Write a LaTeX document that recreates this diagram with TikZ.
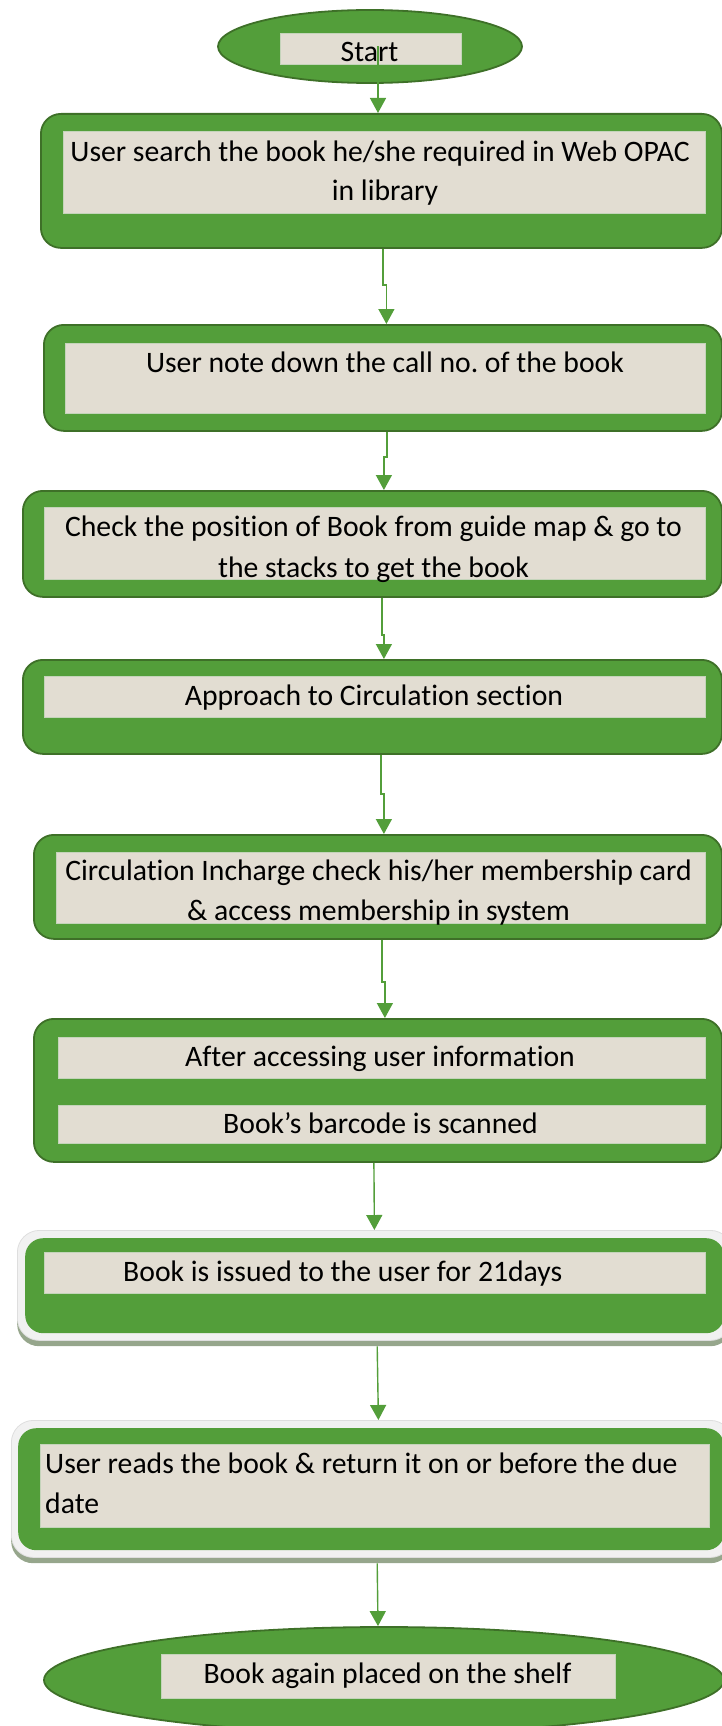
\documentclass[tikz,border=0pt]{standalone}
\usepackage{fontspec}
\setmainfont{Carlito}[Ligatures={NoCommon}]
\usetikzlibrary{arrows.meta,shapes.geometric}
\frenchspacing
\definecolor{gfill}{RGB}{83,158,58}
\definecolor{gborder}{RGB}{62,112,40}
\definecolor{beige}{RGB}{226,221,210}
\definecolor{beigeedge}{RGB}{196,212,186}
\definecolor{frame}{RGB}{241,241,241}
\definecolor{frameedge}{RGB}{222,222,222}
\definecolor{shadowc}{RGB}{150,166,140}
\newcommand\txtfont{\fontsize{29.7pt}{40pt}\selectfont}
\tikzset{
  gbox/.style={draw=gborder, line width=1.8pt, fill=gfill, rounded corners=20pt, inner sep=0pt, anchor=north west},
  gplain/.style={fill=gfill, rounded corners=18pt, inner sep=0pt, anchor=north west},
  framebox/.style={draw=frameedge, line width=0.8pt, fill=frame, rounded corners=22pt, inner sep=0pt, anchor=north west},
  shadowbox/.style={fill=shadowc, rounded corners=22pt, inner sep=0pt, anchor=north west},
  gell/.style={ellipse, draw=gborder, line width=1.8pt, fill=gfill, inner sep=0pt},
  tbox/.style={fill=beige, draw=beigeedge, line width=0.6pt, inner sep=0pt, anchor=north west},
  txt/.style={font=\txtfont, text=black, inner sep=0pt},
  conn/.style={draw=gfill, line width=1.4pt, -{Triangle[width=16pt,length=15pt,color=gfill]}}
}
\begin{document}
\begin{tikzpicture}[x=1pt,y=-1pt]
\useasboundingbox (0,0) rectangle (722,1726);
\clip (0,0) rectangle (722,1726);

% Start
\node[gell, minimum width=304pt, minimum height=73pt] (st) at (370,46.5) {};
\node[tbox, minimum width=181pt, minimum height=31pt] (ts) at (280,33) {};
\node[txt, anchor=base] at (369.5,62) {Start};

% Box 1
\node[gbox, minimum width=681pt, minimum height=134pt] (b1) at (40,113) {};
\node[tbox, minimum width=642pt, minimum height=82pt] (t1) at (63,131) {};
\node[txt, anchor=base] at (380,161) {User search the book he/she required in Web OPAC};
\node[txt, anchor=base] at (385,200) {in library};

% Box 2
\node[gbox, minimum width=678pt, minimum height=106pt] (b2) at (43,324) {};
\node[tbox, minimum width=640pt, minimum height=70pt] (t2) at (65,343) {};
\node[txt, anchor=base] at (385,372) {User note down the call no. of the book};

% Box 3
\node[gbox, minimum width=699pt, minimum height=106pt] (b3) at (22,490) {};
\node[tbox, minimum width=661pt, minimum height=72pt] (t3) at (44,507) {};
\node[txt, anchor=base] at (373.5,536) {Check the position of Book from guide map \& go to};
\node[txt, anchor=base] at (373.5,577) {the stacks to get the book};

% Box 4
\node[gbox, minimum width=699pt, minimum height=94pt] (b4) at (22,659) {};
\node[tbox, minimum width=661pt, minimum height=41pt] (t4) at (44,676) {};
\node[txt, anchor=base] at (374,705) {Approach to Circulation section};

% Box 5
\node[gbox, minimum width=688pt, minimum height=104pt] (b5) at (33,834) {};
\node[tbox, minimum width=649pt, minimum height=71pt] (t5) at (56,852) {};
\node[txt, anchor=base] at (378.5,880) {Circulation Incharge check his/her membership card};
\node[txt, anchor=base] at (378.5,920) {\& access membership in system};

% Box 6
\node[gbox, minimum width=688pt, minimum height=143pt] (b6) at (33,1018) {};
\node[tbox, minimum width=647pt, minimum height=41pt] (t6a) at (58,1037) {};
\node[txt, anchor=base] at (380,1066) {After accessing user information};
\node[tbox, minimum width=647pt, minimum height=38pt] (t6b) at (58,1105) {};
\node[txt, anchor=base] at (380.5,1133) {Book’s barcode is scanned};

% Box 7 (framed, with shadow)
\node[shadowbox, minimum width=715pt, minimum height=108pt] (b7s) at (17,1238) {};
\node[framebox, minimum width=715pt, minimum height=110pt] (b7) at (17,1230) {};
\node[gplain, minimum width=699pt, minimum height=95pt] (b7g) at (25,1238) {};
\node[tbox, minimum width=661pt, minimum height=41pt] (t7) at (44,1252) {};
\node[txt, anchor=base west] at (123,1281) {Book is issued to the user for 21days};

% Box 8 (framed, with shadow)
\node[shadowbox, minimum width=721pt, minimum height=135pt] (b8s) at (11,1428) {};
\node[framebox, minimum width=721pt, minimum height=137pt] (b8) at (11,1420) {};
\node[gplain, minimum width=706pt, minimum height=122pt] (b8g) at (18,1428) {};
\node[tbox, minimum width=669pt, minimum height=83pt] (t8) at (40,1444) {};
\node[txt, anchor=base west] at (45,1473) {User reads the book \& return it on or before the due};
\node[txt, anchor=base west] at (45,1513) {date};

% End
\node[gell, minimum width=680pt, minimum height=106pt] (en) at (384,1680) {};
\node[tbox, minimum width=454pt, minimum height=44pt] (te) at (161,1654) {};
\node[txt, anchor=base] at (387.5,1683) {Book again placed on the shelf};

% Connectors
\draw[conn] ([xshift=8pt]st.center) -- ([xshift=8pt]st.center |- b1.north);
\draw[conn] ([xshift=1.5pt]b1.south) -- ++(0,36) -| ([xshift=3.5pt]b2.north);
\draw[conn] ([xshift=4pt]b2.south) -- ++(0,25) -| ([xshift=11.5pt]b3.north);
\draw[conn] ([xshift=9.5pt]b3.south) -- ++(0,37) -| ([xshift=11.5pt]b4.north);
\draw[conn] ([xshift=8.5pt]b4.south) -- ++(0,39) -| ([xshift=6pt]b5.north);
\draw[conn] ([xshift=4pt]b5.south) -- ++(0,42) -| ([xshift=7pt]b6.north);
\draw[conn] ([xshift=-4pt]b6.south) -- ([xshift=-0.5pt]b7.north);
\draw[conn] ([xshift=2.5pt]b7s.south) -- ([xshift=6.5pt]b8.north);
\draw[conn] ([xshift=5.5pt]b8s.south) -- ([xshift=-6pt]en.north);
\end{tikzpicture}
\end{document}
